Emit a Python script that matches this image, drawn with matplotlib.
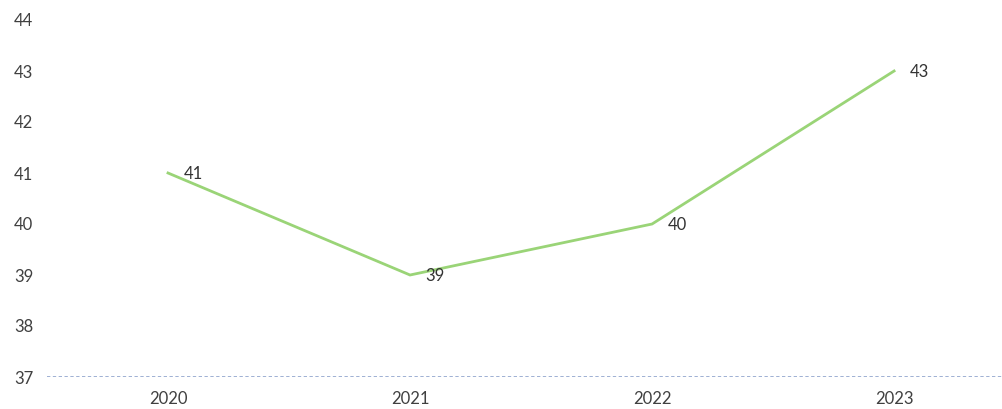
import matplotlib.pyplot as plt

years = ["2020", "2021", "2022", "2023"]
values = [41, 39, 40, 43]
yticks = [37, 38, 39, 40, 41, 42, 43, 44]

plt.rcParams["font.family"] = ["Lato", "DejaVu Sans"]

fig = plt.figure(figsize=(10.03, 4.09), dpi=100)
ax = fig.add_axes([47 / 1003, (409 - 377) / 409, (1003 - 47) / 1003, 357 / 409])

x = list(range(len(years)))
ax.plot(x, values, color="#9ad477", linewidth=2.0, solid_joinstyle="miter")
for xi, v in zip(x, values):
    ax.annotate(str(v), (xi, v), xytext=(11, -1), textcoords="offset points",
                ha="left", va="center", fontsize=12, color="#333333")

ax.axhline(37, color="#8fa3cc", linewidth=1.2, linestyle=(0, (2, 1.5)))

ax.set_xlim(-0.5, 3.45)
ax.set_ylim(37, 44)
ax.set_xticks(x)
ax.set_xticklabels(years)
ax.set_yticks(yticks)
ax.tick_params(axis="both", length=0, labelsize=12, colors="#404040")
ax.tick_params(axis="y", pad=10)
ax.tick_params(axis="x", pad=10)
for s in ax.spines.values():
    s.set_visible(False)

fig.savefig("out.png", dpi=100)
